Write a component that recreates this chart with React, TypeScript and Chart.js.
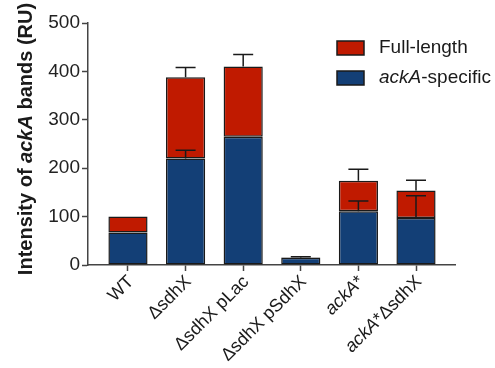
import React, { useEffect, useRef } from "react";
import { Chart, registerables } from "chart.js";
Chart.register(...registerables);

const categories = ["WT", "ΔsdhX", "ΔsdhX pLac", "ΔsdhX pSdhX", "ackA*", "ackA*ΔsdhX"];
// italic segments of each category label
const categoryParts: [string, boolean][][] = [
  [["WT", false]],
  [["ΔsdhX", false]],
  [["ΔsdhX pLac", false]],
  [["ΔsdhX pSdhX", false]],
  [["ackA", true], ["*", false]],
  [["ackA", true], ["*ΔsdhX", false]],
];
const ackASpecific = [67, 220, 265, 15, 111, 97];
const ackASpecificErr = [0, 17, 0, 2, 21, 46];
const fullLength = [33, 168, 145, 1, 63, 57];
const totalErr = [0, 20, 25, 0, 24, 21];
const yTickValues = [0, 100, 200, 300, 400, 500];
const legendLabels: [string, boolean][][] = [
  [["Full-length", false]],
  [["ackA", true], ["-specific", false]],
];
const yTitleParts: [string, boolean][] = [
  ["Intensity of ", false],
  ["ackA", true],
  [" bands (RU)", false],
];

const RED = "#C01A00";
const BLUE = "#133F76";
const INK = "#1a1a1a";
const AXIS = "#444444";
const FONT = "'Liberation Sans', Arial, sans-serif";

function drawParts(
  ctx: CanvasRenderingContext2D,
  parts: [string, boolean][],
  size: number,
  bold: boolean,
  x: number,
  y: number,
  align: "left" | "center" | "right"
) {
  const fontFor = (it: boolean) => `${it ? "italic " : ""}${bold ? "bold " : ""}${size}px ${FONT}`;
  let total = 0;
  const widths = parts.map(([t, it]) => {
    ctx.font = fontFor(it);
    const w = ctx.measureText(t).width;
    total += w;
    return w;
  });
  let cx = align === "left" ? x : align === "center" ? x - total / 2 : x - total;
  ctx.textAlign = "left";
  parts.forEach(([t, it], i) => {
    ctx.font = fontFor(it);
    ctx.fillText(t, cx, y);
    cx += widths[i];
  });
}

const overlayPlugin = {
  id: "overlay",
  afterDatasetsDraw(chart: any) {
    const ctx: CanvasRenderingContext2D = chart.ctx;
    const ys = chart.scales.y;
    const m0 = chart.getDatasetMeta(0);
    ctx.save();
    ctx.strokeStyle = INK;
    ctx.lineWidth = 1.5;
    const capHalf = 10;
    categories.forEach((_, i) => {
      const x = m0.data[i].x;
      const pairs: [number, number][] = [
        [ackASpecific[i], ackASpecificErr[i]],
        [ackASpecific[i] + fullLength[i], totalErr[i]],
      ];
      pairs.forEach(([v, e]) => {
        if (e <= 0) return;
        const top = ys.getPixelForValue(v);
        const cap = ys.getPixelForValue(v + e);
        ctx.beginPath();
        ctx.moveTo(x, top);
        ctx.lineTo(x, cap);
        ctx.moveTo(x - capHalf, cap);
        ctx.lineTo(x + capHalf, cap);
        ctx.stroke();
      });
    });
    ctx.restore();
  },
  afterDraw(chart: any) {
    const ctx: CanvasRenderingContext2D = chart.ctx;
    const xs = chart.scales.x;
    const area = chart.chartArea;
    ctx.save();
    ctx.fillStyle = INK;
    // y-axis title
    ctx.save();
    ctx.translate(32, (area.top + area.bottom) / 2 - 5);
    ctx.rotate(-Math.PI / 2);
    ctx.textBaseline = "alphabetic";
    drawParts(ctx, yTitleParts, 20, true, 0, 0, "center");
    ctx.restore();
    // x category labels
    categoryParts.forEach((parts, i) => {
      const x = xs.getPixelForValue(i);
      ctx.save();
      ctx.translate(x + 3, area.bottom + 14);
      ctx.rotate(-Math.PI / 4);
      ctx.textBaseline = "middle";
      drawParts(ctx, parts, 18, false, 0, 0, "right");
      ctx.restore();
    });
    // legend
    const colors = [RED, BLUE];
    legendLabels.forEach((parts, i) => {
      const by = 41 + i * 30;
      ctx.fillStyle = colors[i];
      ctx.fillRect(337, by, 27, 14);
      ctx.strokeStyle = INK;
      ctx.lineWidth = 1.5;
      ctx.strokeRect(337, by, 27, 14);
      ctx.fillStyle = INK;
      ctx.textBaseline = "middle";
      drawParts(ctx, parts, 19, false, 379, by + 7, "left");
    });
    ctx.restore();
  },
};

export default function App() {
  const ref = useRef<HTMLCanvasElement | null>(null);
  useEffect(() => {
    if (!ref.current) return;
    const chart = new Chart(ref.current, {
      type: "bar",
      data: {
        datasets: [
          {
            label: "ackA-specific",
            data: ackASpecific.map((v, i) => ({ x: i, y: v })),
            backgroundColor: BLUE,
            borderColor: INK,
            borderWidth: 1.5,
            borderSkipped: false,
            barPercentage: 0.68,
            categoryPercentage: 1,
            stack: "s",
          },
          {
            label: "Full-length",
            data: fullLength.map((v, i) => ({ x: i, y: v })),
            backgroundColor: RED,
            borderColor: INK,
            borderWidth: 1.5,
            borderSkipped: false,
            barPercentage: 0.68,
            categoryPercentage: 1,
            stack: "s",
          },
        ] as any,
      },
      options: {
        animation: false,
        responsive: false,
        layout: { padding: { top: 23, right: 40, left: 0, bottom: 0 } },
        plugins: { legend: { display: false }, tooltip: { enabled: false } },
        scales: {
          x: {
            type: "linear",
            stacked: true,
            offset: false,
            min: -0.694,
            max: 5.677,
            afterBuildTicks: (s: any) => {
              s.ticks = categories.map((_, i) => ({ value: i }));
            },
            afterFit: (s: any) => {
              s.height = 103;
            },
            ticks: { display: false },
            grid: { offset: false, drawOnChartArea: false, tickLength: 6, tickColor: AXIS, tickWidth: 1.5 },
            border: { color: AXIS, width: 1.5 },
          },
          y: {
            stacked: true,
            min: 0,
            max: 500,
            afterBuildTicks: (s: any) => {
              s.ticks = yTickValues.map((v) => ({ value: v }));
            },
            afterFit: (s: any) => {
              s.width = 88;
            },
            ticks: { font: { family: FONT, size: 19 }, color: "#222", padding: 2 },
            grid: { drawOnChartArea: false, tickLength: 6, tickColor: AXIS, tickWidth: 1.5 },
            border: { color: AXIS, width: 1.5 },
          },
        },
      } as any,
      plugins: [overlayPlugin],
    });
    return () => chart.destroy();
  }, []);
  return (
    <div style={{ position: "fixed", left: 0, top: 0, width: 495, height: 368, background: "#fff" }}>
      <canvas ref={ref} width={495} height={368} />
    </div>
  );
}
